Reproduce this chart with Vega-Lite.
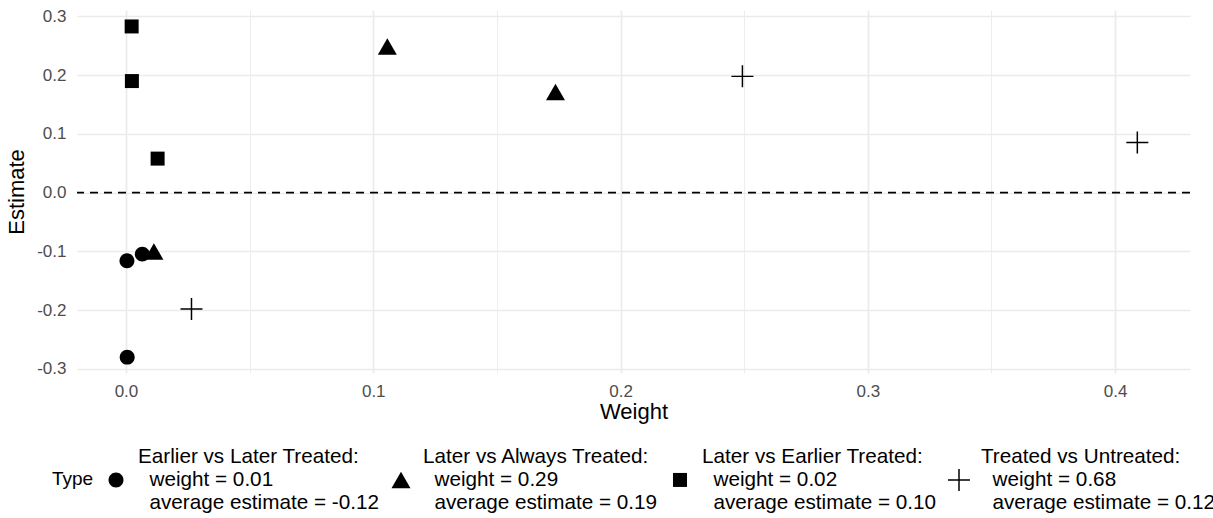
{
  "$schema": "https://vega.github.io/schema/vega-lite/v6.json",
  "autosize": {"type": "none"},
  "width": 1113,
  "height": 363,
  "padding": {"left": 77, "top": 10, "right": 23, "bottom": 145},
  "background": "white",
  "config": {
    "font": "Liberation Sans",
    "view": {"stroke": null},
    "axis": {
      "domain": false,
      "ticks": false,
      "tickSize": 0,
      "labelFont": "Liberation Sans",
      "labelFontSize": 17,
      "labelColor": "#4D4D4D",
      "titleFont": "Liberation Sans",
      "titleFontSize": 22,
      "titleFontWeight": "normal",
      "titleColor": "#000000",
      "gridColor": "#EBEBEB",
      "labelOverlap": false,
      "labelFlush": false
    }
  },
  "resolve": {"scale": {"shape": "independent"}},
  "layer": [
    {
      "data": {
        "values": [
          {"Type": "Earlier vs Later Treated", "Weight": 0.0004, "Estimate": -0.116},
          {"Type": "Earlier vs Later Treated", "Weight": 0.0066, "Estimate": -0.1046},
          {"Type": "Earlier vs Later Treated", "Weight": 0.0005, "Estimate": -0.28},
          {"Type": "Later vs Always Treated", "Weight": 0.0113, "Estimate": -0.1},
          {"Type": "Later vs Always Treated", "Weight": 0.1057, "Estimate": 0.249},
          {"Type": "Later vs Always Treated", "Weight": 0.1737, "Estimate": 0.1714},
          {"Type": "Later vs Earlier Treated", "Weight": 0.0023, "Estimate": 0.283},
          {"Type": "Later vs Earlier Treated", "Weight": 0.0024, "Estimate": 0.19},
          {"Type": "Later vs Earlier Treated", "Weight": 0.0128, "Estimate": 0.058},
          {"Type": "Treated vs Untreated", "Weight": 0.0265, "Estimate": -0.198},
          {"Type": "Treated vs Untreated", "Weight": 0.2493, "Estimate": 0.198},
          {"Type": "Treated vs Untreated", "Weight": 0.409, "Estimate": 0.0854}
        ]
      },
      "mark": {"type": "point", "filled": true, "fill": "#000000", "strokeWidth": 0, "opacity": 1, "size": 484},
      "encoding": {
        "x": {
          "field": "Weight", "type": "quantitative",
          "scale": {"domain": [-0.0198, 0.4303], "nice": false, "zero": false},
          "axis": {
            "title": "Weight",
            "values": [0, 0.05, 0.1, 0.15, 0.2, 0.25, 0.3, 0.35, 0.4],
            "labelExpr": "round(datum.value*100) % 10 == 0 ? replace(format(datum.value, '.1f'), '\u2212', '-') : ''",
            "labelPadding": 10,
            "titlePadding": 2,
            "gridWidth": {"condition": {"test": "round(datum.value*100) % 10 != 0", "value": 0.9}, "value": 1.7}
          }
        },
        "y": {
          "field": "Estimate", "type": "quantitative",
          "scale": {"domain": [-0.307, 0.311], "nice": false, "zero": false},
          "axis": {
            "title": "Estimate",
            "values": [-0.3, -0.25, -0.2, -0.15, -0.1, -0.05, 0, 0.05, 0.1, 0.15, 0.2, 0.25, 0.3],
            "labelExpr": "round(datum.value*100) % 10 == 0 ? replace(format(datum.value, '.1f'), '\u2212', '-') : ''",
            "labelPadding": 11,
            "titlePadding": 8,
            "gridWidth": {"condition": {"test": "round(datum.value*100) % 10 != 0", "value": 0.9}, "value": 1.7}
          }
        },
        "shape": {
          "field": "Type", "type": "nominal",
          "scale": {"range": [
            "M0.68,0A0.68,0.68,0,1,1,-0.68,0A0.68,0.68,0,1,1,0.68,0Z",
            "M-0.864,0.75L0.864,0.75L0,-0.75Z",
            "M-0.636,-0.636H0.636V0.636H-0.636Z",
            "M-1,-0.068H-0.068V-1H0.068V-0.068H1V0.068H0.068V1H-0.068V0.068H-1Z"
          ]},
          "legend": null
        }
      }
    },
    {
      "data": {"values": [{"zero": 0}]},
      "mark": {"type": "rule", "strokeDash": [8, 6], "strokeWidth": 1.6, "color": "#000000"},
      "encoding": {
        "y": {"field": "zero", "type": "quantitative"}
      }
    },
    {
      "data": {"values": []},
      "mark": {"type": "point", "filled": true, "fill": "#000000", "strokeWidth": 0, "opacity": 1, "size": 484},
      "encoding": {
        "shape": {
          "field": "Type", "type": "nominal",
          "scale": {
            "domain": ["Earlier vs Later Treated", "Later vs Always Treated", "Later vs Earlier Treated", "Treated vs Untreated"],
            "range": [
              "M0.68,2.045A0.68,0.68,0,1,1,-0.68,2.045A0.68,0.68,0,1,1,0.68,2.045Z",
              "M-0.864,2.795L0.864,2.795L0,1.295Z",
              "M-0.636,1.409H0.636V2.681H-0.636Z",
              "M-1,1.977H-0.068V1.045H0.068V1.977H1V2.113H0.068V3.045H-0.068V2.113H-1Z"
            ]
          },
          "legend": {
            "title": "Type",
            "orient": "none",
            "legendX": -25,
            "legendY": 436,
            "direction": "horizontal",
            "columns": 4,
            "columnPadding": 11,
            "titleOrient": "left",
            "titleAnchor": "middle",
            "titleBaseline": "middle",
            "titleFont": "Liberation Sans",
            "titleFontSize": 19,
            "titleFontWeight": "normal",
            "titleColor": "#000000",
            "titlePadding": 11,
            "labelFont": "Liberation Sans",
            "labelFontSize": 20.7,
            "labelColor": "#000000",
            "labelLimit": 0,
            "labelOffset": 11,
            "symbolSize": 484,
            "symbolFillColor": "#000000",
            "symbolStrokeWidth": 0,
            "symbolOpacity": 1,
            "labelExpr": "datum.label == 'Earlier vs Later Treated' ? ['Earlier vs Later Treated:', '\u200b\u00a0\u00a0weight = 0.01', '\u200b\u00a0\u00a0average estimate = -0.12'] : datum.label == 'Later vs Always Treated' ? ['Later vs Always Treated:', '\u200b\u00a0\u00a0weight = 0.29', '\u200b\u00a0\u00a0average estimate = 0.19'] : datum.label == 'Later vs Earlier Treated' ? ['Later vs Earlier Treated:', '\u200b\u00a0\u00a0weight = 0.02', '\u200b\u00a0\u00a0average estimate = 0.10'] : ['Treated vs Untreated:', '\u200b\u00a0\u00a0weight = 0.68', '\u200b\u00a0\u00a0average estimate = 0.12']"
          }
        }
      }
    }
  ]
}
